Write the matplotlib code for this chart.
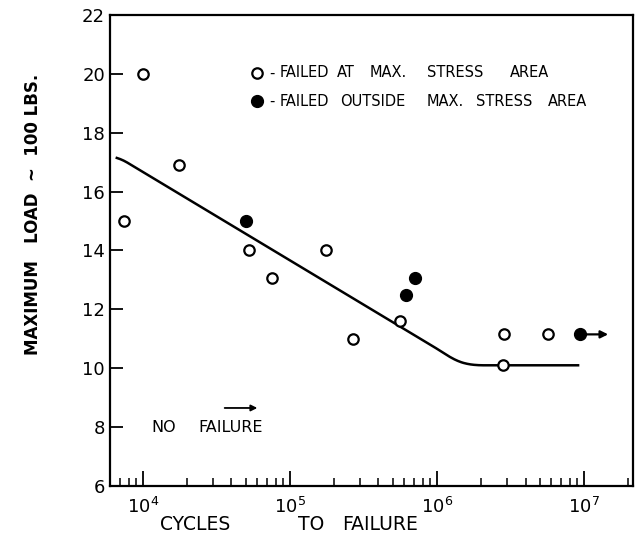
import numpy as np
import matplotlib
matplotlib.use("Agg")
import matplotlib.pyplot as plt
from matplotlib.ticker import LogLocator, LogFormatterSciNotation, NullFormatter

# Fatigue results: cycles to failure vs. maximum load (hundreds of lbs)
open_cycles = [7.5e3, 1.0e4, 1.75e4, 5.3e4, 7.6e4, 1.75e5, 2.7e5, 5.6e5, 2.8e6, 2.85e6, 5.7e6]
open_load = [15.0, 20.0, 16.9, 14.0, 13.05, 14.0, 11.0, 11.6, 10.1, 11.15, 11.15]

solid_cycles = [5.0e4, 6.2e5, 7.1e5]
solid_load = [15.0, 12.5, 13.05]

runout_cycles = [9.4e6]
runout_load = [11.15]

# Fitted S-N curve vertices
curve_cycles = [6.65e3, 1.05e6, 1.28e6, 1.5e6, 1.75e6, 9.1e6]
curve_load = [17.2, 10.6, 10.3, 10.17, 10.1, 10.1]

y_ticks = [6, 8, 10, 12, 14, 16, 18, 20, 22]

key_rows = [
    ("FAILED", "AT", "MAX.", "STRESS", "AREA"),
    ("FAILED", "OUTSIDE", "MAX.", "STRESS", "AREA"),
]

plt.rcParams['font.family'] = ['DejaVu Sans']
fig = plt.figure(figsize=(6.39, 5.41), dpi=100)
ax = fig.add_axes([0.172, 0.1017, 0.8186, 0.8706])

ax.set_xscale('log')
ax.set_xlim(5970, 2.15e7)
ax.set_ylim(6, 22)

# smooth the knee of the curve
lx = np.log10(curve_cycles)
fine = np.linspace(lx[0], lx[-1], 400)
ly = np.interp(fine, lx, curve_load)
k = 9
ly_s = np.convolve(np.pad(ly, k, mode='edge'), np.ones(2 * k + 1) / (2 * k + 1), mode='same')[k:-k]
ax.plot(10 ** fine, ly_s, color='black', lw=1.8, zorder=2)

ax.plot(open_cycles, open_load, linestyle='none', marker='o', ms=7.5,
        mfc='white', mec='black', mew=1.6, zorder=3)
ax.plot(solid_cycles, solid_load, linestyle='none', marker='o', ms=8.5,
        mfc='black', mec='black', zorder=3)
ax.plot(runout_cycles, runout_load, linestyle='none', marker='o', ms=8.5,
        mfc='black', mec='black', zorder=3)
for c, l in zip(runout_cycles, runout_load):
    ax.annotate('', xy=(c * 1.55, l), xytext=(c, l),
                arrowprops=dict(arrowstyle='-|>', lw=1.6, color='black',
                                mutation_scale=11, shrinkA=0, shrinkB=0))

# key: marker, dash, then words spaced out like hand lettering
key_y = [0.877, 0.817]
word_x = [
    [0.325, 0.434, 0.497, 0.606, 0.765],
    [0.325, 0.440, 0.606, 0.700, 0.837],
]
ax.plot([0.281], [key_y[0]], transform=ax.transAxes, marker='o', ms=7.5,
        mfc='white', mec='black', mew=1.6, clip_on=False)
ax.plot([0.281], [key_y[1]], transform=ax.transAxes, marker='o', ms=8.5,
        mfc='black', mec='black', clip_on=False)
for yy, xs, words in zip(key_y, word_x, key_rows):
    ax.text(0.304, yy, '-', transform=ax.transAxes, fontsize=10.5,
            va='center', ha='left')
    for xx, w in zip(xs, words):
        ax.text(xx, yy, w, transform=ax.transAxes, fontsize=10.5,
                va='center', ha='left')

# run-out note
ax.text(1.15e4, 8.0, 'NO', fontsize=11.5, va='center', ha='left')
ax.text(2.4e4, 8.0, 'FAILURE', fontsize=11.5, va='center', ha='left')
ax.annotate('', xy=(6.0e4, 8.65), xytext=(3.6e4, 8.65),
            arrowprops=dict(arrowstyle='-|>', lw=1.3, color='black',
                            mutation_scale=9, shrinkA=0, shrinkB=0))

ax.set_yticks(y_ticks)
ax.set_yticklabels([str(v) for v in y_ticks], fontsize=13)
ax.xaxis.set_major_locator(LogLocator(base=10, numticks=10))
ax.xaxis.set_major_formatter(LogFormatterSciNotation())
ax.xaxis.set_minor_locator(LogLocator(base=10, subs=np.arange(2, 10), numticks=20))
ax.xaxis.set_minor_formatter(NullFormatter())
ax.tick_params(axis='x', which='major', direction='in', length=11, width=1.3,
               labelsize=13, pad=8, top=False)
ax.tick_params(axis='x', which='minor', direction='in', length=6, width=1.1, top=False)
ax.tick_params(axis='y', which='major', direction='in', length=9, width=1.3,
               labelsize=13, right=False)
for s in ax.spines.values():
    s.set_linewidth(1.6)

fig.text(0.052, 0.603, 'MAXIMUM   LOAD  ~  100 LBS.', rotation=90, fontsize=12,
         ha='center', va='center', fontweight='bold')
for xx, w in zip([0.250, 0.466, 0.535], ['CYCLES', 'TO', 'FAILURE']):
    fig.text(xx, 0.0296, w, fontsize=13.5, ha='left', va='center')

fig.savefig('out.png', dpi=100)
